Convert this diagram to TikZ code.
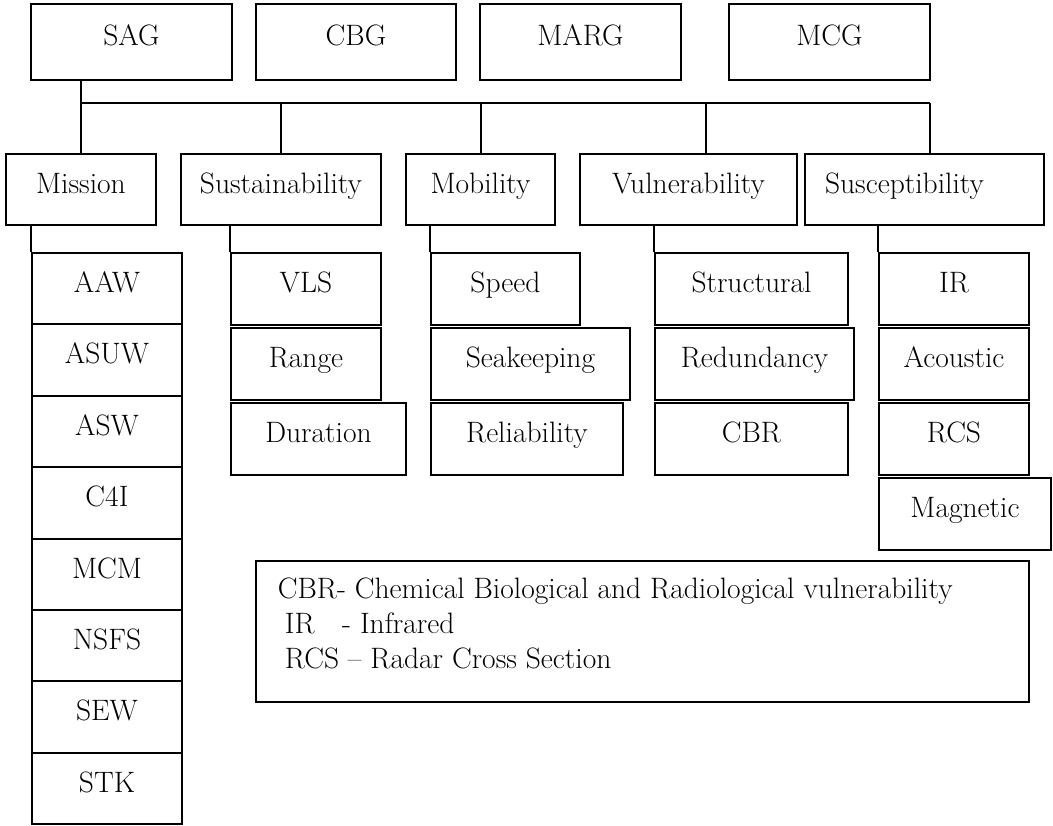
\documentclass[tikz,border=0pt]{standalone}
\usetikzlibrary{calc}

\begin{document}
\begin{tikzpicture}[x=0.02cm, y=-0.02cm, line width=1.1pt, font=\fontsize{16.8}{19}\selectfont,
		box/.style={draw, anchor=north west, inner sep=0pt, text height=0.41cm, text depth=0.26cm},
		wh/.style 2 args={minimum width=#1*0.02cm, minimum height=#2*0.02cm}]
	\useasboundingbox (0,0) rectangle (1053,825);
	% groups
	\node[box, wh={201}{76}] (sag) at (30,3) {SAG};
	\node[box, wh={200}{76}] (cbg) at (255,3) {CBG};
	\node[box, wh={201}{76}] (marg) at (479,3) {MARG};
	\node[box, wh={201}{76}] (mcg) at (728,3) {MCG};
	% attributes
	\node[box, wh={150}{71}] (mission) at (5,153) {Mission};
	\node[box, wh={200}{71}] (sust) at (180,153) {Sustainability};
	\node[box, wh={149}{71}] (mob) at (405,153) {Mobility};
	\node[box, wh={217}{71}] (vuln) at (579,153) {Vulnerability};
	\node[box, wh={239}{71}] (susc) at (804,153) {Susceptibility\hspace*{0.8cm}};
	% tree lines
	\coordinate (bus) at (0,103);
	\draw (mission.north) -- (mission.north |- sag.south);
	\draw (mission.north |- bus) -- ($(susc.north |- bus)+(5.5,0)$);
	\foreach \n/\dx in {sust/0, mob/0.5, vuln/17.5, susc/5.5} {
		\draw ($(\n.north)+(\dx,0)$) -- ($(\n.north |- bus)+(\dx,0)$);
	}
	% mission areas
	\foreach \n/\lbl [count=\i from 0] in {aaw/AAW, asuw/ASUW, asw/ASW, cfouri/C4I, mcm/MCM, nsfs/NSFS, sew/SEW, stk/STK} {
		\node[box, wh={150}{71.4}] (\n) at (31,{252+71.4*\i}) {\lbl};
	}
	% other columns
	\foreach \n/\w/\y/\lbl in {vls/150/252/VLS, range/150/327/Range, duration/175/402/Duration} {
		\node[box, wh={\w}{72}] (\n) at (230,\y) {\lbl};
	}
	\foreach \n/\w/\y/\lbl in {speed/149/252/Speed, seakeep/199/327/Seakeeping, reliab/192/402/Reliability} {
		\node[box, wh={\w}{72}] (\n) at (430,\y) {\lbl};
	}
	\foreach \n/\w/\y/\lbl in {structural/193/252/Structural, redund/199/327/Redundancy, cbr/193/402/CBR} {
		\node[box, wh={\w}{72}] (\n) at (654,\y) {\lbl};
	}
	\foreach \n/\w/\y/\lbl in {ir/150/252/IR, acoustic/150/327/Acoustic, rcs/150/402/RCS, magnetic/172/477/Magnetic} {
		\node[box, wh={\w}{72}] (\n) at (878,\y) {\lbl};
	}
	\foreach \p/\c in {mission/aaw, sust/vls, mob/speed, vuln/structural, susc/ir} {
		\draw (\c.north west) -- (\c.north west |- \p.south);
	}
	% key
	\node[draw, anchor=north west, inner xsep=0.44cm, inner ysep=0.33cm] (key) at (255,560) {\parbox[c][2.16cm][t]{14.58cm}{\fontsize{16.8}{20}\selectfont
		CBR- Chemical Biological and Radiological vulnerability\\
		\hspace*{0.14cm}IR\hspace{0.55cm}- Infrared\\
		\hspace*{0.14cm}RCS -- Radar Cross Section}};
\end{tikzpicture}
\end{document}
